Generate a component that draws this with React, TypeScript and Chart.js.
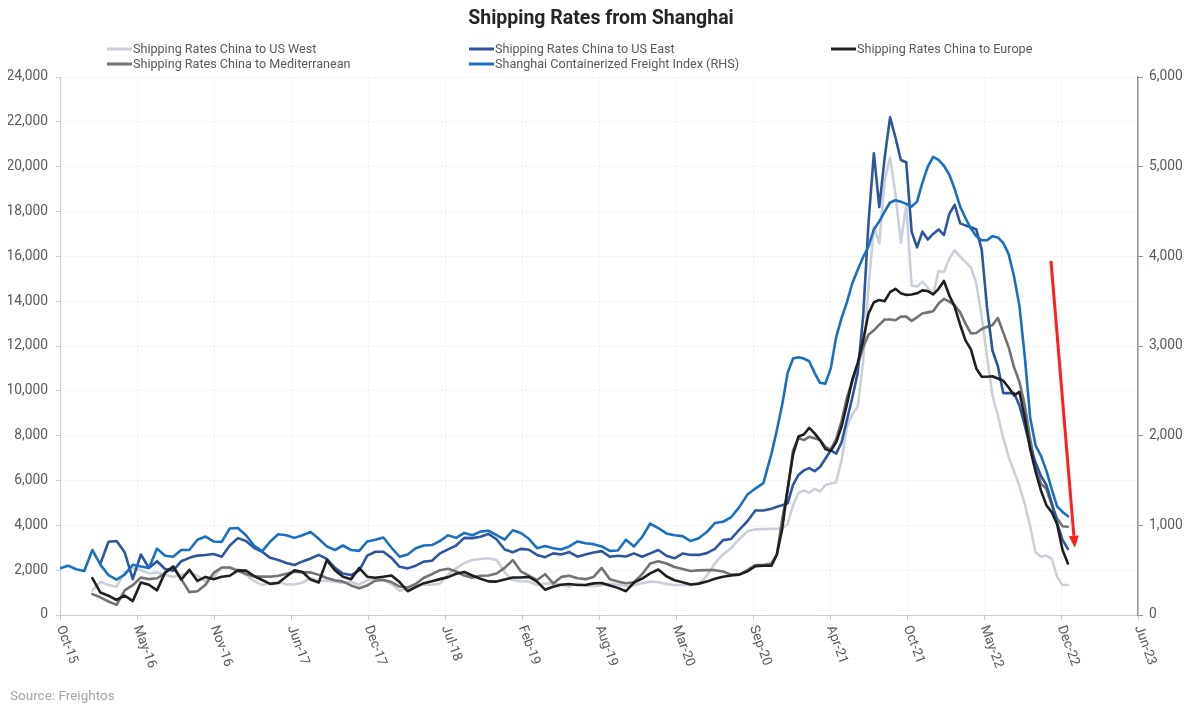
import { useEffect, useRef } from "react";
import { Chart, registerables } from "chart.js";

Chart.register(...registerables);

// Observation dates, in weeks after 25 Oct 2015: three-weekly to mid-2020, fortnightly afterwards
const sampleWeeks: number[] = [
  ...Array.from({ length: 89 }, (_, i) => i * 3),
  ...Array.from({ length: 55 }, (_, i) => 266 + i * 2),
];

// Date axis: a label every 200 days from the first observation
const xTickLabels = [
  "Oct-15", "May-16", "Nov-16", "Jun-17", "Dec-17", "Jul-18", "Feb-19", "Aug-19",
  "Mar-20", "Sep-20", "Apr-21", "Oct-21", "May-22", "Dec-22", "Jun-23",
];

// Freightos Baltic Index lanes, USD per FEU
const usWest: (number | null)[] = [
  null, null, null, null,
  1100, 1480, 1340, 1260, 1900, 2100,
  2000, 1850, 1900, 1800, 1700, 1800, 1900, 1750, 1500, 1700,
  2100, 2100, 2030, 1800, 1520, 1340, 1420, 1480, 1360, 1360,
  1450, 1650, 1520, 1530, 1480, 1430, 1470, 1360, 1560, 1630,
  1560, 1380, 1080, 1180, 1330, 1360, 1350, 1400, 1800, 2080,
  2320, 2450, 2500, 2530, 2450, 1900, 1560, 1510, 1490, 1340,
  1400, 1410, 1350, 1270, 1400, 1300, 1280, 1330, 1400, 1350,
  1290, 1330, 1420, 1490, 1460, 1380, 1340, 1340, 1340, 1380,
  1750, 2300, 2700, 2980, 3380, 3720, 3820, 3830, 3840,
  3850, 3870, 4050, 4900, 5450, 5560, 5450, 5630, 5500, 5800,
  5870, 5920, 6900, 8400, 8950, 9300, 11300, 14650, 17300, 16580,
  19400, 20400, 18800, 16600, 18300, 14700, 14650, 14870, 14600, 14300,
  15350, 15300, 15900, 16280, 15990, 15750, 15500, 14800, 13300, 11500,
  9800, 8900, 7900, 7050, 6400, 5750, 4950, 3950, 2800, 2600,
  2650, 2500, 1700, 1340, 1340,
];

const usEast: (number | null)[] = [
  null, null, null, null, null,
  2300, 3270, 3300, 2800, 1600,
  2700, 2100, 2400, 2050, 1980, 2400, 2550, 2650, 2680, 2720,
  2600, 3100, 3430, 3300, 3000, 2820, 2550, 2450, 2320, 2230,
  2390, 2520, 2680, 2500, 2100, 1850, 1780, 1980, 2650, 2820,
  2820, 2550, 2150, 2080, 2200, 2380, 2420, 2750, 2930, 3100,
  3440, 3430, 3490, 3620, 3380, 2920, 2800, 2950, 2910, 2680,
  2580, 2750, 2700, 2810, 2600, 2700, 2790, 2850, 2600, 2640,
  2610, 2750, 2600, 2750, 2900, 2640, 2530, 2740, 2680, 2680,
  2760, 2950, 3340, 3390, 3800, 4170, 4660, 4660, 4740,
  4830, 4900, 4980, 5800, 6250, 6450, 6550, 6420, 6600, 6970,
  7350, 7200, 7700, 8700, 9700, 10800, 13300, 17500, 20600, 18200,
  20400, 22200, 21300, 20300, 20200, 17100, 16400, 17100, 16750, 17000,
  17200, 16950, 17900, 18300, 17470, 17380, 17300, 17200, 16300, 13700,
  11800, 11100, 9900, 9900, 9900, 9350, 8450, 7500, 6800, 6200,
  5800, 5000, 4100, 3350, 2950,
];

const europe: (number | null)[] = [
  null, null, null, null,
  1640, 1000, 860, 670, 870, 620,
  1450, 1350, 1100, 1900, 2150, 1580, 2020, 1520, 1700, 1600,
  1710, 1750, 1990, 1980, 1740, 1560, 1390, 1430, 1720, 1990,
  1920, 1580, 1450, 2450, 2000, 1710, 1600, 2100, 1710, 1660,
  1710, 1760, 1470, 1060, 1240, 1420, 1510, 1600, 1690, 1840,
  1920, 1760, 1620, 1500, 1490, 1580, 1670, 1670, 1700, 1490,
  1130, 1260, 1350, 1380, 1340, 1340, 1410, 1430, 1320, 1210,
  1060, 1450, 1620, 1860, 2030, 1730, 1550, 1460, 1360, 1400,
  1490, 1620, 1710, 1760, 1800, 1940, 2180, 2200, 2200,
  2700, 3850, 5650, 7150, 7960, 8050, 8350, 8100, 7800, 7400,
  7320, 7700, 8400, 9400, 10500, 11250, 12250, 13450, 13950, 14050,
  14000, 14400, 14550, 14350, 14280, 14300, 14350, 14480, 14450, 14300,
  14550, 14900, 14250, 13750, 12950, 12250, 11850, 11000, 10630, 10630,
  10650, 10550, 10450, 10150, 9800, 9950, 8800, 7400, 6400, 5550,
  4900, 4580, 4050, 2900, 2300,
];

const mediterranean: (number | null)[] = [
  null, null, null, null,
  930, 790, 600, 450, 1100, 1330,
  1670, 1600, 1640, 1860, 2180, 1600, 1020, 1060, 1350, 1880,
  2120, 2120, 1970, 1830, 1720, 1710, 1710, 1750, 1840, 1930,
  1900, 1900, 1790, 1650, 1550, 1490, 1320, 1190, 1320, 1530,
  1560, 1470, 1270, 1230, 1380, 1660, 1820, 2000, 2060, 1940,
  1760, 1660, 1750, 1760, 1850, 2100, 2450, 1950, 1760, 1560,
  1820, 1410, 1700, 1750, 1640, 1600, 1700, 2100, 1600, 1490,
  1420, 1460, 1820, 2300, 2400, 2300, 2140, 2050, 1960, 1990,
  2000, 2000, 1940, 1800, 1800, 2000, 2230, 2230, 2300,
  2700, 4300, 5550, 7350, 7900, 7800, 7950, 7880, 7810, 7500,
  7380, 7850, 8650, 9700, 10450, 11150, 11950, 12500, 12700, 12950,
  13180, 13180, 13150, 13310, 13310, 13120, 13280, 13450, 13500, 13550,
  13900, 14100, 13980, 13820, 13500, 13000, 12560, 12580, 12760, 12860,
  12930, 13250, 12600, 11950, 11050, 10400, 9350, 7850, 6600, 5850,
  5630, 4900, 4300, 3960, 3940,
];

// Shanghai Containerized Freight Index, index points (right-hand scale)
const scfi: (number | null)[] = [
  520, 550, 510, 490, 725, 560, 445, 395, 450, 560,
  540, 525, 740, 660, 650, 725, 725, 840, 875, 820,
  815, 965, 970, 890, 775, 710, 820, 900, 890, 860,
  890, 925, 850, 765, 725, 775, 725, 715, 820, 840,
  865, 750, 650, 675, 745, 775, 780, 825, 890, 860,
  915, 890, 930, 940, 890, 840, 945, 915, 850, 745,
  770, 745, 730, 765, 820, 800, 790, 765, 715, 720,
  840, 765, 870, 1020, 970, 910, 890, 880, 825, 855,
  925, 1025, 1040, 1090, 1200, 1340, 1410, 1470, 1800,
  2060, 2350, 2700, 2860, 2875, 2860, 2830, 2700, 2590, 2580,
  2750, 3100, 3310, 3490, 3700, 3850, 3990, 4110, 4300, 4390,
  4500, 4600, 4625, 4610, 4585, 4555, 4610, 4820, 5000, 5110,
  5075, 5010, 4910, 4750, 4555, 4425, 4310, 4225, 4180, 4180,
  4225, 4210, 4150, 4025, 3775, 3450, 2875, 2200, 1890, 1775,
  1610, 1400, 1210, 1150, 1100,
];

const seriesNames = [
  "Shipping Rates China to US West",
  "Shipping Rates China to US East",
  "Shipping Rates China to Europe",
  "Shipping Rates China to Mediterranean",
  "Shanghai Containerized Freight Index (RHS)",
];
const seriesColors = ["#c9d0db", "#2f55a0", "#1f1f1f", "#737373", "#1b6fc2"];

// Trend arrow, in days after the first observation and USD (left scale)
const arrowFrom = { day: 2574, value: 15800 };
const arrowTo = { day: 2636, value: 3000 };

const FONT = "Roboto, 'Noto Sans', sans-serif";

const toPoints = (values: (number | null)[]) =>
  sampleWeeks.map((w, i) => ({ x: w * 7, y: values[i] }));

const overlayPlugin = {
  id: "overlay",
  afterDraw(chart: any) {
    const { ctx } = chart;
    const xs = chart.scales.x;
    const ys = chart.scales.y;
    ctx.save();

    // title
    ctx.fillStyle = "#262626";
    ctx.font = `bold 19.5px ${FONT}`;
    ctx.textAlign = "center";
    ctx.textBaseline = "middle";
    ctx.fillText("Shipping Rates from Shanghai", 601, 19);

    // legend: three columns, two rows
    const colX = [107, 469, 831];
    const rowY = [49, 64];
    ctx.font = `12.6px ${FONT}`;
    ctx.textAlign = "left";
    seriesNames.forEach((name, i) => {
      const cx = colX[i % 3];
      const cy = rowY[Math.floor(i / 3)];
      ctx.strokeStyle = seriesColors[i];
      ctx.lineWidth = 3;
      ctx.beginPath();
      ctx.moveTo(cx, cy);
      ctx.lineTo(cx + 25, cy);
      ctx.stroke();
      ctx.fillStyle = "#595959";
      ctx.fillText(name, cx + 26, cy + 0.5);
    });

    // rotated date labels
    ctx.fillStyle = "#595959";
    ctx.font = `13.5px ${FONT}`;
    xs.ticks.forEach((t: any) => {
      const idx = Math.round(t.value / 200);
      const label = xTickLabels[idx];
      if (!label) return;
      const px = xs.getPixelForValue(t.value);
      ctx.save();
      ctx.translate(px, xs.top + 11);
      ctx.rotate((70 * Math.PI) / 180);
      ctx.textAlign = "left";
      ctx.textBaseline = "middle";
      ctx.fillText(label, 0, 0);
      ctx.restore();
    });

    // downward trend arrow
    const x1 = xs.getPixelForValue(arrowFrom.day);
    const y1 = ys.getPixelForValue(arrowFrom.value);
    const x2 = xs.getPixelForValue(arrowTo.day);
    const y2 = ys.getPixelForValue(arrowTo.value);
    const ang = Math.atan2(y2 - y1, x2 - x1);
    const headLen = 12;
    const headHalf = 5;
    const bx = x2 - headLen * Math.cos(ang);
    const by = y2 - headLen * Math.sin(ang);
    ctx.strokeStyle = "#ff1f1f";
    ctx.fillStyle = "#ff1f1f";
    ctx.lineWidth = 3;
    ctx.beginPath();
    ctx.moveTo(x1, y1);
    ctx.lineTo(bx, by);
    ctx.stroke();
    ctx.beginPath();
    ctx.moveTo(x2, y2);
    ctx.lineTo(bx + headHalf * Math.sin(ang), by - headHalf * Math.cos(ang));
    ctx.lineTo(bx - headHalf * Math.sin(ang), by + headHalf * Math.cos(ang));
    ctx.closePath();
    ctx.fill();

    // source note
    ctx.fillStyle = "#a6a6a6";
    ctx.font = `13.5px ${FONT}`;
    ctx.textAlign = "left";
    ctx.textBaseline = "middle";
    ctx.fillText("Source: Freightos", 10, 697);

    ctx.restore();
  },
};

export default function App() {
  const canvasRef = useRef<HTMLCanvasElement>(null);

  useEffect(() => {
    document.body.style.margin = "0";
    const canvas = canvasRef.current;
    if (!canvas) return;
    const lineDefaults = {
      pointRadius: 0,
      borderWidth: 2.6,
      tension: 0,
      fill: false,
      borderJoinStyle: "round" as const,
      borderCapStyle: "round" as const,
      spanGaps: false,
    };
    const valueSets = [usWest, usEast, europe, mediterranean, scfi];
    const drawOrder = [5, 3, 1, 4, 2];
    const chart = new Chart(canvas, {
      type: "line",
      data: {
        datasets: valueSets.map((vals, i) => ({
          ...lineDefaults,
          label: seriesNames[i],
          data: toPoints(vals) as any,
          borderColor: seriesColors[i],
          backgroundColor: seriesColors[i],
          yAxisID: i === 4 ? "y1" : "y",
          order: drawOrder[i],
        })),
      },
      options: {
        animation: false,
        responsive: false,
        maintainAspectRatio: false,
        devicePixelRatio: 1,
        layout: { padding: { left: 8, right: 12, top: 77, bottom: 40 } },
        plugins: {
          legend: { display: false },
          title: { display: false },
          tooltip: { enabled: false },
        },
        scales: {
          x: {
            type: "linear",
            min: 0,
            max: 2800,
            ticks: { stepSize: 200, display: false },
            grid: { color: "#eceef2", tickColor: "#c3cbdb", tickLength: 5 },
            border: { color: "#c3cbdb", width: 1, dash: [2, 2] },
            afterFit: (s: any) => { s.height = 60; },
          },
          y: {
            position: "left",
            min: 0,
            max: 24000,
            ticks: {
              stepSize: 2000,
              padding: 8,
              color: "#595959",
              font: { family: FONT, size: 13.8 },
              callback: (v: any) => Number(v).toLocaleString("en-US"),
            },
            grid: { color: "#eceef2", tickColor: "#c3cbdb", tickLength: 4 },
            border: { color: "#c3cbdb", width: 1, dash: [2, 2] },
            afterFit: (s: any) => { s.width = 52; },
          },
          y1: {
            position: "right",
            min: 0,
            max: 6000,
            ticks: {
              stepSize: 1000,
              padding: 6,
              color: "#595959",
              font: { family: FONT, size: 13.8 },
              callback: (v: any) => Number(v).toLocaleString("en-US"),
            },
            grid: { drawOnChartArea: false, tickColor: "#8a94a3", tickLength: 5 },
            border: { color: "#8a94a3", width: 1.5 },
            afterFit: (s: any) => { s.width = 50; },
          },
        },
      },
      plugins: [overlayPlugin],
    });
    return () => chart.destroy();
  }, []);

  return (
    <div style={{ position: "relative", width: 1200, height: 715, background: "#ffffff" }}>
      <canvas
        ref={canvasRef}
        width={1200}
        height={715}
        style={{ display: "block", width: 1200, height: 715 }}
      />
    </div>
  );
}
